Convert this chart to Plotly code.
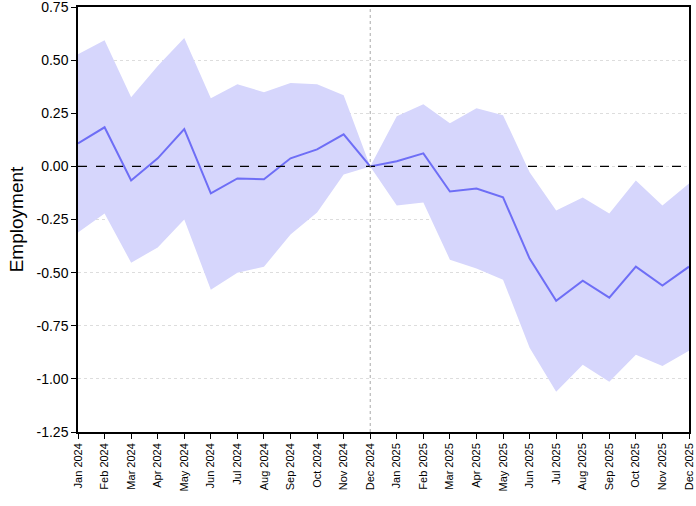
import plotly.graph_objects as go

months = ["Jan 2024", "Feb 2024", "Mar 2024", "Apr 2024", "May 2024", "Jun 2024",
          "Jul 2024", "Aug 2024", "Sep 2024", "Oct 2024", "Nov 2024", "Dec 2024",
          "Jan 2025", "Feb 2025", "Mar 2025", "Apr 2025", "May 2025", "Jun 2025",
          "Jul 2025", "Aug 2025", "Sep 2025", "Oct 2025", "Nov 2025", "Dec 2025"]

estimate = [0.108, 0.184, -0.066, 0.038, 0.175, -0.127, -0.057, -0.061, 0.038, 0.080,
            0.151, 0.0, 0.024, 0.061, -0.118, -0.104, -0.146, -0.434, -0.632, -0.538,
            -0.618, -0.472, -0.561, -0.472]

upper = [0.528, 0.594, 0.325, 0.472, 0.604, 0.321, 0.387, 0.349, 0.392, 0.387,
         0.335, 0.0, 0.236, 0.292, 0.203, 0.274, 0.241, -0.028, -0.208, -0.146,
         -0.222, -0.066, -0.184, -0.080]

lower = [-0.311, -0.222, -0.453, -0.382, -0.250, -0.580, -0.500, -0.472, -0.321, -0.217,
         -0.038, 0.0, -0.184, -0.170, -0.439, -0.481, -0.533, -0.854, -1.061, -0.934,
         -1.014, -0.887, -0.939, -0.868]

y_ticks = [0.75, 0.5, 0.25, 0.0, -0.25, -0.5, -0.75, -1.0, -1.25]
ref_month = "Dec 2024"

x = list(range(len(months)))

fig = go.Figure()
fig.add_trace(go.Scatter(x=x, y=lower, mode="lines", line=dict(width=0),
                         hoverinfo="skip", showlegend=False))
fig.add_trace(go.Scatter(x=x, y=upper, mode="lines", line=dict(width=0),
                         fill="tonexty", fillcolor="rgba(214,214,252,1)",
                         hoverinfo="skip", showlegend=False))
fig.add_trace(go.Scatter(x=x, y=estimate, mode="lines",
                         line=dict(color="#6e6ef6", width=2), showlegend=False))

fig.add_hline(y=0, line=dict(color="black", width=1.2, dash="dash"))
fig.add_vline(x=months.index(ref_month), line=dict(color="#aaaaaa", width=1, dash="dot"))

fig.update_layout(
    width=696, height=506,
    margin=dict(l=78, r=7, t=7, b=74),
    plot_bgcolor="white", paper_bgcolor="white",
    font=dict(family="Liberation Sans, Arial, sans-serif", color="black"),
    showlegend=False,
)
fig.update_xaxes(
    range=[0, len(months) - 1], tickmode="array", tickvals=x, ticktext=months,
    tickangle=-90, tickfont=dict(size=11), ticks="outside", ticklen=5,
    tickcolor="black", showgrid=False, zeroline=False, automargin=False,
    ticklabeloverflow="allow",
    showline=True, linecolor="black", linewidth=1.5, mirror=True,
)
fig.update_yaxes(
    range=[-1.25, 0.75], tickmode="array", tickvals=y_ticks,
    ticktext=[f"{v:.2f}" for v in y_ticks], tickfont=dict(size=14),
    ticks="outside", ticklen=5, tickcolor="black", automargin=False,
    ticklabeloverflow="allow",
    showgrid=True, gridcolor="#dddddd", griddash="dot", gridwidth=1,
    zeroline=False, showline=True, linecolor="black", linewidth=1.5, mirror=True,
    title=dict(text="Employment", standoff=8),
)
fig.update_layout(yaxis_title_font=dict(size=19, family="Liberation Sans, Arial, sans-serif"))

fig.write_html("out.html", config={"displayModeBar": False},
               post_script="document.body.style.margin='0';")
